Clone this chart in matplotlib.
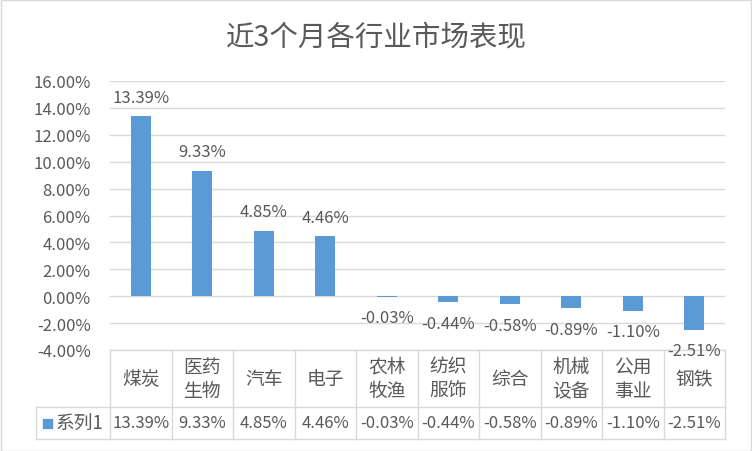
import matplotlib
matplotlib.use("Agg")
from matplotlib import pyplot as plt
from matplotlib.patches import Rectangle
import matplotlib.transforms as mtransforms

plt.rcParams['font.family'] = ['Noto Sans CJK SC', 'DejaVu Sans']

# 数据
categories = ["煤炭", "医药\n生物", "汽车", "电子", "农林\n牧渔", "纺织\n服饰", "综合", "机械\n设备", "公用\n事业", "钢铁"]
values = [13.39, 9.33, 4.85, 4.46, -0.03, -0.44, -0.58, -0.89, -1.10, -2.51]
yticks = [-4, -2, 0, 2, 4, 6, 8, 10, 12, 14, 16]
series_name = "系列1"

bar_color = "#5B9BD5"
txt = "#595959"
grid = "#D9D9D9"

fig = plt.figure(figsize=(7.52, 4.52), dpi=100)
W, H = 752, 452
# 坐标区 (像素): 左110 右725 上82 下351
ax = fig.add_axes([110 / W, (H - 351) / H, 615 / W, 269 / H])

n = len(categories)
xs = [i + 0.5 for i in range(n)]
ax.bar(xs, values, width=0.33, color=bar_color, zorder=3)
ax.set_xlim(0, n)
ax.set_ylim(-4, 16)
ax.set_yticks(yticks)
ax.set_yticklabels([f"{v:.2f}%" for v in yticks], color=txt, fontsize=12)
ax.tick_params(axis='y', length=0, pad=14)
ax.set_xticks([])
for s in ax.spines.values():
    s.set_visible(False)
ax.grid(axis='y', color=grid, linewidth=1, zorder=0)

# 数据标签
for x, v in zip(xs, values):
    off = 19 if v >= 0 else -21
    ax.annotate(f"{v:.2f}%", (x, v), xytext=(0, off), textcoords='offset pixels',
                ha='center', va='center', color=txt, fontsize=12, zorder=4)

# 表格 (x: 数据坐标, y: 坐标区比例)
tr = mtransforms.blended_transform_factory(ax.transData, ax.transAxes)
row1 = -57 / 269
row2 = -89 / 269
x_left = (36 - 110) / 61.5
lc = "#D9D9D9"
kw = dict(transform=tr, color=lc, linewidth=1, clip_on=False)
ax.plot([0, n], [0, 0], **kw)
ax.plot([x_left, n], [row1, row1], **kw)
ax.plot([x_left, n], [row2, row2], **kw)
for i in range(n + 1):
    ax.plot([i, i], [0, row2], **kw)
ax.plot([x_left, x_left], [row1, row2], **kw)

for x, c, v in zip(xs, categories, values):
    ax.text(x, row1 / 2, c, transform=tr, ha='center', va='center', color=txt,
            fontsize=13.5, linespacing=1.2, clip_on=False)
    ax.text(x, (row1 + row2) / 2, f"{v:.2f}%", transform=tr, ha='center', va='center',
            color=txt, fontsize=12, clip_on=False)

# 图例标记
ymid = (row1 + row2) / 2
ax.add_patch(Rectangle((x_left + 7 / 61.5, ymid - 4.5 / 269), 9 / 61.5, 9 / 269,
                       transform=tr, color=bar_color, clip_on=False))
ax.text(x_left + 20 / 61.5, ymid, series_name, transform=tr, ha='left', va='center',
        color=txt, fontsize=13.5, clip_on=False)

fig.text(0.5, (H - 38) / H, "近3个月各行业市场表现", ha='center', va='center',
         color=txt, fontsize=20.5)

# 外框
fig.patches.append(Rectangle((0.5 / W, 0.5 / H), 1 - 1.5 / W, 1 - 1.5 / H, transform=fig.transFigure,
                             fill=False, edgecolor="#D9D9D9", linewidth=1))

plt.savefig("out.png", dpi=100)
